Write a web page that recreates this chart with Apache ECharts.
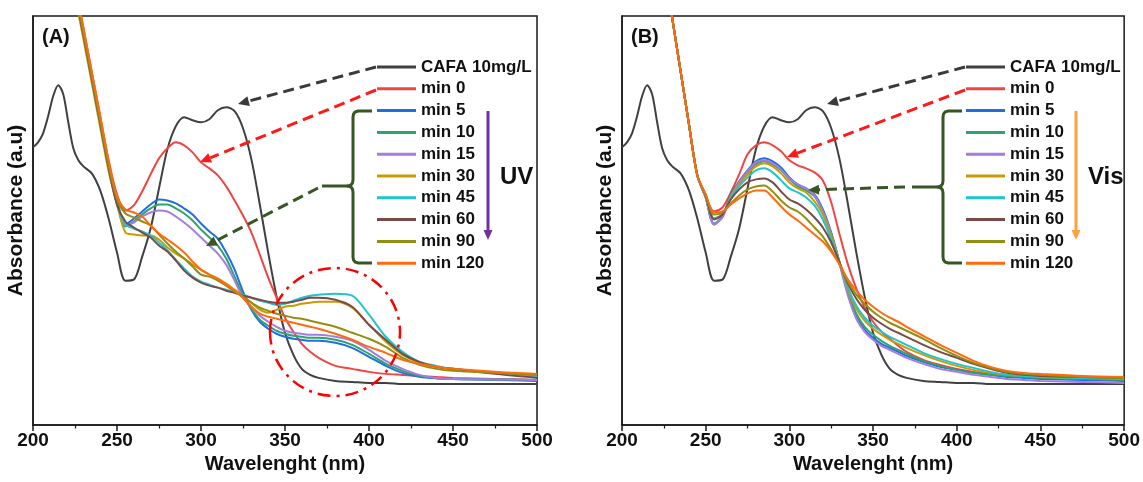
<!DOCTYPE html>
<html><head><meta charset="utf-8">
<script src="https://cdn.jsdelivr.net/npm/echarts@6/dist/echarts.min.js"></script>
<style>html,body{margin:0;padding:0;background:#fff}#c{width:1143px;height:482px}</style>
</head><body><div id="c"></div>
<script>
// ---------- DATA ----------
const xTicks = [200, 250, 300, 350, 400, 450, 500];
const names = ['CAFA 10mg/L','min 0','min 5','min 10','min 15','min 30','min 45','min 60','min 90','min 120'];

const wlCafa = [200,203,206,209,212,215,218,221,224,227,230,235,240,245,250,255,260,265,270,275,280,285,290,295,300,305,310,315,320,325,330,335,340,345,350,355,360,365,370,380,390,400,410,420,430,440,450,475,500];
const cafa = [2.77,2.82,2.91,3.08,3.28,3.39,3.30,3.02,2.76,2.64,2.58,2.51,2.34,2.06,1.72,1.44,1.45,1.68,1.96,2.36,2.75,2.98,3.07,3.04,3.02,3.05,3.14,3.17,3.13,2.96,2.65,2.20,1.72,1.28,0.92,0.70,0.56,0.50,0.47,0.44,0.43,0.42,0.42,0.41,0.41,0.41,0.41,0.41,0.41];

const wl = [221,224,227,230,235,240,245,250,255,260,265,270,275,280,285,290,295,300,305,310,315,320,325,330,335,340,345,350,355,360,365,370,380,390,400,410,420,430,440,450,475,500];

// Panel A (UV)
const a0   = [4.74,4.48,4.22,3.96,3.52,3.08,2.64,2.30,2.14,2.19,2.33,2.50,2.66,2.76,2.82,2.79,2.72,2.62,2.56,2.49,2.38,2.24,2.09,1.92,1.70,1.47,1.27,1.07,0.93,0.81,0.73,0.67,0.59,0.56,0.53,0.51,0.50,0.49,0.48,0.47,0.46,0.45];
const a5   = [4.69,4.43,4.17,3.91,3.47,3.03,2.59,2.25,2.00,2.06,2.13,2.20,2.25,2.24,2.21,2.16,2.10,2.01,1.93,1.86,1.72,1.55,1.33,1.15,1.03,0.96,0.91,0.88,0.86,0.85,0.84,0.84,0.82,0.77,0.68,0.59,0.52,0.48,0.465,0.46,0.45,0.44];
const a10  = [4.69,4.43,4.17,3.91,3.47,3.03,2.59,2.24,1.98,2.03,2.10,2.16,2.20,2.20,2.16,2.11,2.04,1.95,1.87,1.79,1.66,1.48,1.29,1.16,1.05,0.99,0.94,0.91,0.89,0.88,0.87,0.87,0.85,0.80,0.71,0.61,0.54,0.49,0.47,0.46,0.455,0.45];
const a15  = [4.69,4.43,4.17,3.91,3.47,3.03,2.59,2.23,1.99,2.02,2.08,2.12,2.14,2.13,2.08,2.02,1.95,1.87,1.79,1.71,1.60,1.44,1.27,1.18,1.09,1.03,0.98,0.94,0.92,0.91,0.90,0.90,0.88,0.84,0.75,0.64,0.56,0.50,0.47,0.46,0.455,0.45];
const a30  = [4.63,4.37,4.11,3.85,3.41,2.97,2.53,2.20,1.92,1.90,1.89,1.89,1.85,1.77,1.71,1.66,1.60,1.55,1.50,1.46,1.41,1.35,1.29,1.22,1.15,1.12,1.15,1.18,1.19,1.21,1.22,1.23,1.23,1.17,1.00,0.83,0.70,0.62,0.58,0.55,0.52,0.49];
const a45  = [4.67,4.41,4.15,3.89,3.45,3.01,2.57,2.20,2.00,1.96,1.93,1.89,1.82,1.74,1.65,1.56,1.48,1.43,1.40,1.37,1.35,1.32,1.30,1.27,1.24,1.22,1.20,1.21,1.24,1.27,1.29,1.30,1.31,1.29,1.10,0.88,0.73,0.63,0.59,0.56,0.52,0.48];
const a60  = [4.67,4.41,4.15,3.89,3.45,3.01,2.57,2.20,2.03,1.97,1.92,1.87,1.79,1.73,1.64,1.54,1.47,1.42,1.39,1.37,1.34,1.32,1.29,1.27,1.25,1.23,1.22,1.22,1.23,1.25,1.27,1.27,1.25,1.18,1.00,0.85,0.71,0.63,0.58,0.56,0.51,0.47];
const a90  = [4.69,4.43,4.17,3.91,3.47,3.03,2.59,2.25,2.11,2.07,2.03,1.99,1.90,1.81,1.73,1.66,1.58,1.50,1.48,1.44,1.39,1.33,1.28,1.22,1.17,1.14,1.11,1.09,1.07,1.06,1.04,1.02,0.98,0.92,0.86,0.78,0.67,0.60,0.56,0.54,0.52,0.50];
const a120 = [4.74,4.48,4.22,3.96,3.52,3.08,2.64,2.28,2.15,2.12,2.08,1.99,1.91,1.85,1.79,1.72,1.63,1.55,1.50,1.46,1.40,1.34,1.27,1.18,1.11,1.08,1.06,1.04,1.02,1.00,0.98,0.96,0.91,0.85,0.78,0.72,0.65,0.61,0.58,0.56,0.53,0.51];

// Panel B (Vis)
const b0   = [5.00,4.69,4.37,4.06,3.53,3.00,2.49,2.28,2.13,2.17,2.32,2.50,2.70,2.79,2.82,2.79,2.73,2.64,2.59,2.56,2.52,2.44,2.22,1.90,1.60,1.36,1.17,1.03,0.93,0.86,0.79,0.73,0.65,0.60,0.56,0.53,0.51,0.49,0.48,0.47,0.46,0.46];
const b5   = [5.00,4.69,4.37,4.06,3.53,3.00,2.49,2.27,2.00,2.08,2.30,2.43,2.54,2.63,2.66,2.63,2.57,2.47,2.40,2.36,2.30,2.15,1.92,1.62,1.31,1.08,0.95,0.87,0.81,0.77,0.73,0.69,0.63,0.58,0.55,0.52,0.50,0.48,0.47,0.46,0.45,0.44];
const b10  = [5.00,4.69,4.37,4.06,3.53,3.00,2.49,2.27,2.01,2.08,2.29,2.42,2.52,2.60,2.63,2.60,2.54,2.45,2.38,2.34,2.28,2.13,1.91,1.62,1.33,1.11,0.98,0.90,0.84,0.79,0.75,0.71,0.64,0.59,0.55,0.52,0.50,0.49,0.48,0.47,0.46,0.45];
const b15  = [5.00,4.69,4.37,4.06,3.53,3.00,2.49,2.27,2.00,2.07,2.28,2.42,2.53,2.62,2.64,2.61,2.55,2.46,2.40,2.36,2.29,2.13,1.90,1.60,1.29,1.06,0.93,0.85,0.79,0.75,0.71,0.67,0.61,0.56,0.53,0.50,0.48,0.46,0.45,0.44,0.43,0.42];
const b30  = [5.00,4.69,4.37,4.06,3.53,3.00,2.49,2.27,2.06,2.10,2.27,2.40,2.50,2.58,2.61,2.58,2.51,2.42,2.36,2.32,2.23,2.10,1.88,1.62,1.35,1.16,1.04,0.96,0.90,0.85,0.81,0.77,0.70,0.64,0.59,0.55,0.52,0.50,0.49,0.48,0.47,0.46];
const b45  = [5.00,4.69,4.37,4.06,3.53,3.00,2.49,2.28,2.06,2.10,2.26,2.38,2.47,2.54,2.56,2.52,2.44,2.36,2.32,2.27,2.19,2.05,1.85,1.62,1.37,1.19,1.07,0.99,0.93,0.88,0.84,0.80,0.72,0.66,0.61,0.57,0.53,0.50,0.49,0.48,0.47,0.46];
const b60  = [5.00,4.69,4.37,4.06,3.53,3.00,2.49,2.29,2.05,2.10,2.25,2.35,2.42,2.45,2.46,2.42,2.33,2.25,2.21,2.15,2.07,1.97,1.82,1.62,1.41,1.26,1.15,1.07,1.01,0.96,0.92,0.88,0.80,0.73,0.67,0.61,0.56,0.52,0.50,0.49,0.48,0.47];
const b90  = [5.00,4.69,4.37,4.06,3.53,3.00,2.49,2.30,2.10,2.12,2.21,2.29,2.35,2.38,2.39,2.33,2.24,2.17,2.13,2.06,1.97,1.88,1.75,1.60,1.43,1.30,1.21,1.13,1.07,1.02,0.98,0.94,0.86,0.77,0.69,0.62,0.57,0.53,0.51,0.50,0.48,0.47];
const b120 = [5.00,4.69,4.37,4.06,3.53,3.00,2.49,2.30,2.12,2.13,2.20,2.26,2.31,2.34,2.34,2.27,2.18,2.10,2.04,1.97,1.90,1.83,1.73,1.60,1.45,1.34,1.25,1.18,1.12,1.07,1.03,0.98,0.89,0.80,0.72,0.64,0.58,0.54,0.52,0.51,0.49,0.48];

// ---------- STYLE ----------
const colors = ['#404040','#F04545','#1F6FDD','#2EA36C','#A77CE2','#C99A06','#1FC4CC','#7A4A48','#8F8F12','#FF6A0F'];
const FONT = 'Liberation Sans, Arial, sans-serif';
const dataA = [a0,a5,a10,a15,a30,a45,a60,a90,a120];
const dataB = [b0,b5,b10,b15,b30,b45,b60,b90,b120];

function mk(name, xs, ys, color, idx){
  return {type:'line', name, xAxisIndex:idx, yAxisIndex:idx,
    data: xs.map((x,i)=>[x, ys[i]]), symbol:'none', showSymbol:false,
    smooth:0.3, clip:true, silent:true,
    lineStyle:{color, width:2}, itemStyle:{color}};
}
const series = [];
[[dataA,0],[dataB,1]].forEach(([set, idx])=>{
  series.push(mk(names[0], wlCafa, cafa, colors[0], idx));
  set.forEach((ys,k)=>series.push(mk(names[k+1], wl, ys, colors[k+1], idx)));
});

function xAxis(idx){
  return {type:'value', gridIndex:idx, min:xTicks[0], max:xTicks[xTicks.length-1], interval:xTicks[1]-xTicks[0],
    name:'Wavelenght (nm)', nameLocation:'middle', nameGap:29,
    nameTextStyle:{fontFamily:FONT, fontWeight:'bold', fontSize:20, color:'#111'},
    axisLine:{show:true, lineStyle:{color:'#1a1a1a', width:1.5}},
    axisTick:{show:true, length:6, lineStyle:{color:'#1a1a1a', width:1.5}},
    minorTick:{show:true, splitNumber:2, length:3.5, lineStyle:{color:'#1a1a1a', width:1.2}},
    axisLabel:{fontFamily:FONT, fontWeight:'bold', fontSize:19, color:'#111', margin:6},
    splitLine:{show:false}};
}
function yAxis(idx){
  return {type:'value', gridIndex:idx, min:0, max:4.08,
    name:'Absorbance (a.u)', nameLocation:'middle', nameGap:6,
    nameTextStyle:{fontFamily:FONT, fontWeight:'bold', fontSize:21, color:'#111', padding:[0,0,0,20]},
    axisLine:{show:true, lineStyle:{color:'#1a1a1a', width:1.5}},
    axisTick:{show:false}, axisLabel:{show:false}, splitLine:{show:false}};
}
function legend(left){
  return {data:names, left, top:57, orient:'vertical', padding:0, itemWidth:39, itemHeight:3, itemGap:1.8,
    icon:'rect', selectedMode:false,
    textStyle:{fontFamily:FONT, fontWeight:'bold', fontSize:17, color:'#111', lineHeight:20}};
}

// ---------- ANNOTATIONS (pixel geometry) ----------
const graphics = [];
function dashedArrow(x1,y1,x2,y2,color){
  const dx=x2-x1, dy=y2-y1, L=Math.hypot(dx,dy), ux=dx/L, uy=dy/L, hl=11, hw=5;
  const bx=x2-ux*hl, by=y2-uy*hl;
  graphics.push({type:'line', z:100, shape:{x1,y1,x2:bx,y2:by}, style:{stroke:color, lineWidth:3, lineDash:[11,6]}});
  graphics.push({type:'polygon', z:100, shape:{points:[[x2,y2],[bx-uy*hw,by+ux*hw],[bx+uy*hw,by-ux*hw]]}, style:{fill:color}});
}
function solidArrowDown(x,y1,y2,color){
  graphics.push({type:'line', z:100, shape:{x1:x,y1,x2:x,y2:y2-9}, style:{stroke:color, lineWidth:3}});
  graphics.push({type:'polygon', z:100, shape:{points:[[x,y2],[x-4.5,y2-10],[x+4.5,y2-10]]}, style:{fill:color}});
}
function brace(x, yt, yb, ym, hookX, stemX){
  const c='#375623';
  graphics.push({type:'polyline', z:100, shape:{points:[[hookX,yt],[x+5,yt],[x+2,yt+1],[x+0.5,yt+3],[x,yt+6],[x,ym-6],[x-0.5,ym-3],[x-2,ym-1],[x-5,ym],[x-2,ym+1],[x-0.5,ym+3],[x,ym+6],[x,yb-6],[x+0.5,yb-3],[x+2,yb-1],[x+5,yb],[hookX,yb]]}, style:{stroke:c, lineWidth:3, fill:null}});
  graphics.push({type:'line', z:100, shape:{x1:stemX, y1:ym, x2:x-5, y2:ym}, style:{stroke:c, lineWidth:3}});
}
const txt = (text,x,y,size,align) => graphics.push({type:'text', z:100, x, y, style:{text, font:`bold ${size}px ${FONT}`, fill:'#111', textAlign:align||'left', textVerticalAlign:'middle'}});

// Panel A
dashedArrow(376,67,238,104,'#3a3a3a');
dashedArrow(376,90,200,162,'#FF1a1a');
brace(353,111,263,186,372,322);
dashedArrow(318,188,206,246,'#375623');
graphics.push({type:'ellipse', z:100, shape:{cx:335, cy:332, rx:65, ry:64}, style:{fill:null, stroke:'#FF0000', lineWidth:2.5, lineDash:[13,6,3,6]}});
solidArrowDown(488,111,240,'#7030A0');
txt('UV',500,177,24);
txt('(A)',42,37,20);
// Panel B
dashedArrow(965,67,827,104,'#3a3a3a');
dashedArrow(965,90,787,157,'#FF1a1a');
brace(943,111,263,187,962,912);
dashedArrow(905,187,808,190,'#375623');
solidArrowDown(1076,111,240,'#FFA040');
txt('Vis',1088,177,24);
txt('(B)',631,37,20);

const chart = echarts.init(document.getElementById('c'), null, {renderer:'canvas'});
chart.setOption({
  animation:false, backgroundColor:'#fff',
  grid:[
    {left:33, right:1143-537, top:16, bottom:57, show:true, borderColor:'#1a1a1a', borderWidth:1.5},
    {left:622, right:1143-1125, top:16, bottom:57, show:true, borderColor:'#1a1a1a', borderWidth:1.5}
  ],
  xAxis:[xAxis(0), xAxis(1)],
  yAxis:[yAxis(0), yAxis(1)],
  legend:[legend(377), legend(966)],
  series,
  graphic:{elements:graphics}
});
</script></body></html>
